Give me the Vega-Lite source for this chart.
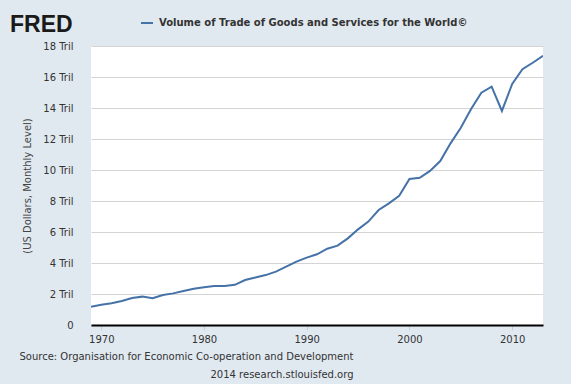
{
  "$schema": "https://vega.github.io/schema/vega-lite/v6.json",
  "width": 452,
  "height": 279,
  "autosize": {"type": "none"},
  "padding": {"left": 91, "top": 46, "right": 28, "bottom": 59},
  "background": "#e1e9f0",
  "view": {"fill": "white", "stroke": null},
  "title": {"text": "FRED", "anchor": "start", "frame": "group", "dx": -81, "dy": 49, "baseline": "alphabetic", "font": "Liberation Sans", "fontSize": 23, "fontWeight": "bold", "color": "#1a1a1a", "offset": 10},
  "data": {"values": [
    {"year": 1969, "value": 1.18}, {"year": 1970, "value": 1.31}, {"year": 1971, "value": 1.40},
    {"year": 1972, "value": 1.55}, {"year": 1973, "value": 1.74}, {"year": 1974, "value": 1.83},
    {"year": 1975, "value": 1.73}, {"year": 1976, "value": 1.94}, {"year": 1977, "value": 2.04},
    {"year": 1978, "value": 2.19}, {"year": 1979, "value": 2.34}, {"year": 1980, "value": 2.43},
    {"year": 1981, "value": 2.52}, {"year": 1982, "value": 2.51}, {"year": 1983, "value": 2.59},
    {"year": 1984, "value": 2.90}, {"year": 1985, "value": 3.07}, {"year": 1986, "value": 3.22},
    {"year": 1987, "value": 3.44}, {"year": 1988, "value": 3.76}, {"year": 1989, "value": 4.09},
    {"year": 1990, "value": 4.35}, {"year": 1991, "value": 4.56}, {"year": 1992, "value": 4.92},
    {"year": 1993, "value": 5.12}, {"year": 1994, "value": 5.59}, {"year": 1995, "value": 6.17},
    {"year": 1996, "value": 6.67}, {"year": 1997, "value": 7.42}, {"year": 1998, "value": 7.85},
    {"year": 1999, "value": 8.34}, {"year": 2000, "value": 9.42}, {"year": 2001, "value": 9.50},
    {"year": 2002, "value": 9.94}, {"year": 2003, "value": 10.58}, {"year": 2004, "value": 11.72},
    {"year": 2005, "value": 12.73}, {"year": 2006, "value": 13.94}, {"year": 2007, "value": 14.99},
    {"year": 2008, "value": 15.38}, {"year": 2009, "value": 13.81}, {"year": 2010, "value": 15.55},
    {"year": 2011, "value": 16.50}, {"year": 2012, "value": 16.92}, {"year": 2013, "value": 17.37}
  ]},
  "mark": {"type": "line", "strokeWidth": 2, "clip": true},
  "encoding": {
    "x": {
      "field": "year", "type": "quantitative",
      "scale": {"domain": [1969, 2013], "nice": false, "zero": false},
      "axis": {
        "values": [1970, 1980, 1990, 2000, 2010], "format": "d", "grid": false,
        "domainColor": "#000000", "domainWidth": 2,
        "tickColor": "#c5d0dc", "tickSize": 5, "tickWidth": 1,
        "labelFont": "DejaVu Sans", "labelFontSize": 10, "labelColor": "#333333", "labelPadding": 4,
        "title": ["Source: Organisation for Economic Co-operation and Development", "2014 research.stlouisfed.org"],
        "titleFont": "DejaVu Sans", "titleFontSize": 10, "titleFontWeight": "normal", "titleColor": "#333333",
        "titleAlign": "right", "titleBaseline": "top", "titleX": 262, "titleY": 26, "titleLineHeight": 18
      }
    },
    "y": {
      "field": "value", "type": "quantitative",
      "scale": {"domain": [0, 18], "nice": false},
      "axis": {
        "values": [0, 2, 4, 6, 8, 10, 12, 14, 16, 18],
        "labelExpr": "datum.value == 0 ? '0' : datum.value + ' Tril'",
        "grid": true, "gridColor": "#d4d4d4", "gridWidth": 1,
        "domain": false, "ticks": false,
        "labelFont": "DejaVu Sans", "labelFontSize": 10, "labelColor": "#333333", "labelPadding": 18,
        "title": "(US Dollars, Monthly Level)",
        "titleFont": "DejaVu Sans", "titleFontSize": 10, "titleFontWeight": "normal", "titleColor": "#444444",
        "titlePadding": 10
      }
    },
    "color": {
      "datum": "Volume of Trade of Goods and Services for the World©",
      "type": "nominal",
      "scale": {"range": ["#4572a7"]},
      "legend": {
        "orient": "none", "legendX": 49, "legendY": -30, "title": null,
        "symbolType": "stroke", "symbolStrokeWidth": 2, "symbolSize": 144,
        "labelFont": "DejaVu Sans", "labelFontSize": 10, "labelFontWeight": "bold",
        "labelColor": "#333333", "labelLimit": 0, "labelOffset": 5
      }
    }
  }
}
